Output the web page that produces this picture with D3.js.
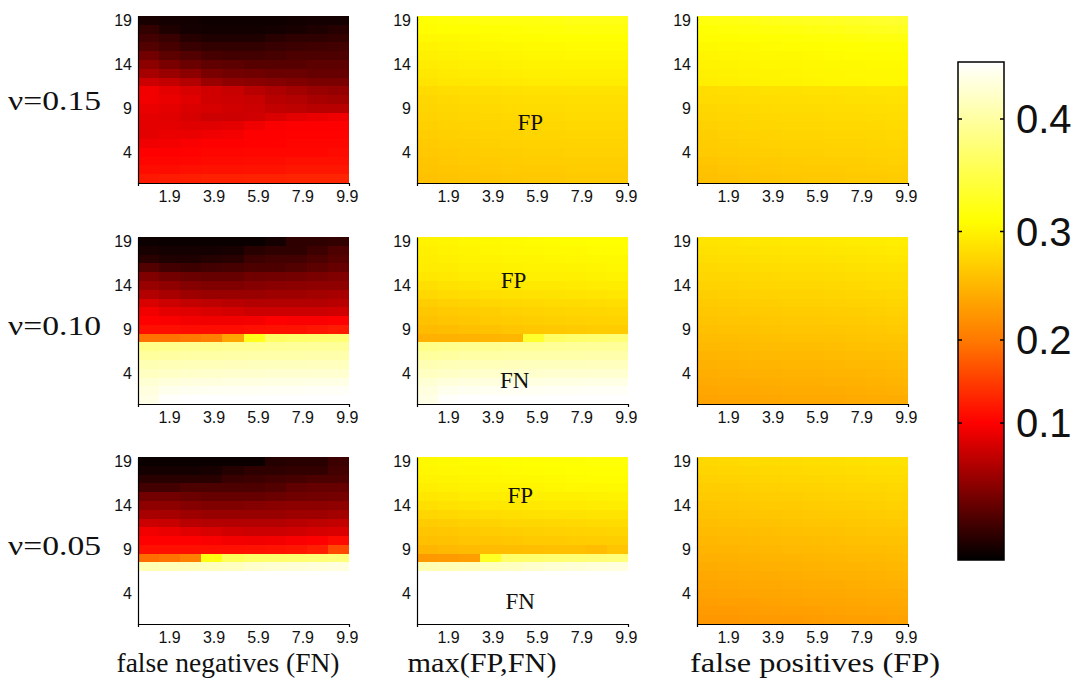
<!DOCTYPE html>
<html>
<head>
<meta charset="utf-8">
<title>FN / FP maps</title>
<script src="https://cdn.jsdelivr.net/npm/d3@7"></script>
<style>
  body { margin: 0; background: #fff; }
</style>
</head>
<body>
<script>

// ---- data -------------------------------------------------------------

var rowLabels = ["\u03bd=0.15", "\u03bd=0.10", "\u03bd=0.05"];
var colLabels = ["false negatives (FN)", "max(FP,FN)", "false positives (FP)"];

var xTicks = [1.9, 3.9, 5.9, 7.9, 9.9];
var yTicks = [4, 9, 14, 19];
var barTicks = [0.1, 0.2, 0.3, 0.4];

// y levels of the matrix rows (top row first)
var yLevels = [19, 18, 17, 16, 15, 14, 13, 12, 11, 10, 9, 8, 7, 6, 5, 4, 3, 2, 1];
// x edges of the column blocks
var xEdges = [0.5, 1.45, 2.4, 3.35, 4.3, 5.25, 6.2, 7.15, 8.1, 9.05, 10.0];

// nu = 0.15
var fn15 = [
  [.010,.008,.007,.006,.006,.006,.006,.007,.008,.008],
  [.020,.012,.008,.007,.007,.007,.008,.010,.012,.015],
  [.026,.022,.015,.012,.012,.012,.016,.018,.018,.020],
  [.032,.028,.022,.020,.020,.020,.022,.024,.025,.026],
  [.045,.036,.032,.028,.026,.026,.028,.030,.030,.030],
  [.055,.048,.042,.038,.036,.034,.034,.034,.036,.036],
  [.065,.060,.055,.048,.045,.044,.042,.042,.040,.040],
  [.080,.076,.070,.060,.056,.054,.052,.050,.048,.048],
  [.095,.090,.085,.082,.078,.072,.068,.064,.060,.058],
  [.095,.092,.088,.082,.080,.078,.072,.070,.066,.064],
  [.092,.090,.086,.084,.082,.080,.076,.074,.072,.072],
  [.090,.088,.084,.080,.080,.082,.086,.090,.092,.094],
  [.090,.090,.088,.088,.090,.094,.098,.100,.100,.100],
  [.090,.092,.092,.094,.096,.100,.100,.102,.102,.102],
  [.094,.096,.098,.100,.100,.102,.102,.104,.104,.104],
  [.100,.100,.102,.104,.104,.106,.106,.106,.106,.108],
  [.104,.104,.106,.108,.108,.110,.110,.112,.112,.112],
  [.110,.110,.112,.114,.114,.116,.116,.118,.118,.118],
  [.120,.122,.124,.126,.126,.128,.128,.130,.130,.130]
];
var mx15 = [
  [.312,.314,.316,.318,.318,.318,.320,.322,.322,.322],
  [.308,.310,.310,.312,.312,.314,.314,.316,.316,.316],
  [.304,.305,.306,.307,.308,.309,.310,.310,.311,.311],
  [.300,.302,.303,.304,.305,.306,.306,.307,.307,.307],
  [.297,.299,.300,.301,.302,.303,.303,.304,.304,.304],
  [.294,.296,.297,.298,.299,.300,.300,.301,.301,.301],
  [.291,.293,.294,.295,.296,.297,.297,.298,.298,.298],
  [.288,.290,.291,.292,.293,.294,.294,.295,.295,.295],
  [.280,.282,.283,.284,.285,.286,.286,.287,.287,.287],
  [.277,.279,.280,.281,.282,.283,.283,.284,.284,.284],
  [.275,.277,.278,.279,.280,.281,.281,.282,.282,.282],
  [.273,.275,.276,.277,.278,.279,.279,.280,.280,.280],
  [.271,.273,.274,.275,.276,.277,.277,.278,.278,.278],
  [.269,.271,.272,.273,.274,.275,.275,.276,.276,.276],
  [.267,.269,.270,.271,.272,.273,.273,.274,.274,.274],
  [.265,.267,.268,.269,.270,.271,.271,.272,.272,.272],
  [.263,.265,.266,.267,.268,.269,.269,.270,.270,.270],
  [.261,.263,.264,.265,.266,.267,.267,.268,.268,.268],
  [.259,.261,.262,.263,.264,.265,.265,.266,.266,.266]
];
var fp15 = [
  [.318,.320,.322,.324,.326,.328,.330,.332,.334,.336],
  [.312,.314,.315,.316,.318,.320,.322,.324,.326,.328],
  [.308,.309,.310,.311,.312,.313,.314,.316,.318,.318],
  [.305,.306,.306,.307,.308,.309,.310,.311,.312,.312],
  [.302,.303,.304,.305,.305,.306,.307,.308,.308,.309],
  [.300,.301,.302,.303,.303,.304,.305,.305,.306,.306],
  [.298,.299,.300,.301,.302,.303,.303,.304,.304,.305],
  [.296,.298,.299,.300,.301,.302,.303,.303,.304,.304],
  [.282,.283,.284,.285,.285,.286,.286,.287,.288,.288],
  [.280,.281,.282,.282,.283,.284,.284,.285,.285,.286],
  [.277,.278,.279,.280,.281,.281,.282,.282,.283,.284],
  [.275,.276,.277,.278,.279,.279,.280,.280,.281,.282],
  [.272,.274,.275,.276,.277,.277,.278,.278,.279,.280],
  [.270,.272,.273,.274,.275,.275,.276,.276,.277,.278],
  [.268,.270,.271,.272,.273,.273,.274,.274,.275,.276],
  [.266,.268,.269,.270,.271,.271,.272,.272,.273,.274],
  [.263,.265,.266,.267,.268,.269,.269,.270,.271,.272],
  [.260,.262,.264,.265,.266,.267,.267,.268,.269,.270],
  [.258,.260,.262,.263,.264,.265,.265,.266,.267,.268]
];

// nu = 0.10
var fn10 = [
  [.005,.004,.004,.004,.004,.004,.008,.018,.018,.020],
  [.010,.008,.008,.008,.010,.016,.018,.018,.024,.030],
  [.016,.012,.012,.014,.016,.024,.026,.026,.030,.034],
  [.032,.026,.024,.026,.028,.030,.030,.032,.036,.040],
  [.050,.045,.042,.040,.040,.044,.045,.046,.048,.050],
  [.060,.056,.052,.050,.050,.052,.054,.055,.056,.056],
  [.070,.066,.062,.060,.060,.060,.062,.062,.064,.066],
  [.085,.080,.076,.074,.072,.070,.070,.070,.070,.072],
  [.095,.090,.088,.085,.083,.080,.080,.080,.080,.082],
  [.100,.098,.096,.095,.095,.096,.100,.098,.098,.100],
  [.112,.112,.110,.110,.110,.112,.114,.114,.118,.122],
  [.195,.195,.200,.205,.235,.325,.365,.370,.372,.375],
  [.385,.388,.390,.390,.392,.392,.394,.395,.396,.396],
  [.398,.400,.402,.402,.403,.404,.404,.404,.405,.405],
  [.410,.412,.413,.413,.414,.415,.415,.415,.416,.416],
  [.418,.420,.422,.423,.424,.424,.425,.425,.426,.426],
  [.428,.432,.434,.435,.436,.436,.437,.437,.438,.438],
  [.434,.442,.444,.445,.446,.446,.447,.447,.448,.448],
  [.438,.450,.452,.452,.452,.452,.452,.452,.452,.452]
];
var mx10 = [
  [.300,.302,.304,.305,.306,.307,.308,.309,.310,.310],
  [.298,.300,.302,.303,.304,.305,.306,.306,.307,.308],
  [.296,.298,.300,.300,.302,.302,.303,.304,.305,.305],
  [.294,.295,.297,.298,.299,.300,.300,.301,.302,.303],
  [.290,.292,.294,.295,.296,.297,.297,.298,.299,.300],
  [.284,.286,.288,.290,.291,.292,.292,.293,.294,.295],
  [.278,.280,.282,.284,.285,.286,.287,.288,.289,.290],
  [.270,.272,.274,.276,.278,.279,.280,.281,.282,.283],
  [.264,.266,.268,.270,.272,.274,.275,.276,.277,.278],
  [.260,.262,.264,.266,.268,.270,.271,.272,.273,.274],
  [.254,.256,.258,.260,.262,.264,.265,.266,.268,.268],
  [.245,.246,.247,.248,.250,.335,.365,.370,.372,.375],
  [.385,.388,.390,.390,.392,.392,.394,.395,.396,.396],
  [.398,.400,.402,.402,.403,.404,.404,.404,.405,.405],
  [.410,.412,.413,.413,.414,.415,.415,.415,.416,.416],
  [.418,.420,.422,.423,.424,.424,.425,.425,.426,.426],
  [.428,.432,.434,.435,.436,.436,.437,.437,.438,.438],
  [.434,.442,.444,.445,.446,.446,.447,.447,.448,.448],
  [.438,.450,.452,.452,.452,.452,.452,.452,.452,.452]
];
var fp10 = [
  [.288,.289,.290,.291,.292,.292,.293,.294,.295,.296],
  [.285,.286,.287,.288,.289,.289,.290,.291,.292,.293],
  [.282,.283,.284,.285,.286,.286,.287,.288,.289,.290],
  [.279,.280,.281,.282,.283,.283,.284,.285,.286,.287],
  [.276,.277,.278,.279,.280,.280,.281,.282,.283,.284],
  [.273,.274,.275,.276,.277,.277,.278,.279,.280,.281],
  [.270,.271,.272,.273,.274,.274,.275,.276,.277,.278],
  [.267,.268,.269,.270,.271,.271,.272,.273,.274,.275],
  [.264,.265,.266,.267,.268,.268,.269,.270,.271,.272],
  [.261,.262,.263,.264,.265,.265,.266,.267,.268,.269],
  [.258,.259,.260,.261,.262,.262,.263,.264,.265,.266],
  [.255,.256,.257,.258,.259,.259,.260,.261,.262,.263],
  [.252,.253,.254,.255,.256,.256,.257,.258,.259,.260],
  [.249,.250,.251,.252,.253,.253,.254,.255,.256,.257],
  [.246,.247,.248,.249,.250,.250,.251,.252,.253,.254],
  [.243,.244,.245,.246,.247,.247,.248,.249,.250,.251],
  [.240,.241,.242,.243,.244,.244,.245,.246,.247,.248],
  [.237,.238,.239,.240,.241,.241,.242,.243,.244,.245],
  [.234,.235,.236,.237,.238,.238,.239,.240,.241,.242]
];

// nu = 0.05
var fn05 = [
  [.004,.004,.004,.004,.004,.004,.014,.016,.016,.024],
  [.008,.008,.008,.010,.014,.018,.018,.020,.020,.026],
  [.016,.016,.016,.016,.022,.024,.026,.028,.030,.030],
  [.026,.026,.030,.030,.030,.030,.032,.038,.040,.040],
  [.045,.045,.042,.040,.040,.040,.042,.044,.045,.046],
  [.056,.055,.052,.050,.050,.052,.054,.055,.055,.056],
  [.066,.065,.062,.060,.060,.060,.060,.062,.062,.064],
  [.080,.078,.072,.070,.070,.070,.070,.072,.074,.076],
  [.095,.092,.088,.085,.082,.080,.080,.082,.084,.086],
  [.100,.100,.100,.098,.096,.095,.096,.098,.100,.108],
  [.112,.112,.112,.112,.112,.114,.116,.118,.125,.160],
  [.190,.195,.205,.320,.360,.368,.370,.372,.375,.378],
  [.410,.412,.414,.416,.418,.424,.428,.430,.432,.434],
  [.452,.452,.452,.452,.452,.452,.452,.452,.452,.452],
  [.452,.452,.452,.452,.452,.452,.452,.452,.452,.452],
  [.452,.452,.452,.452,.452,.452,.452,.452,.452,.452],
  [.452,.452,.452,.452,.452,.452,.452,.452,.452,.452],
  [.452,.452,.452,.452,.452,.452,.452,.452,.452,.452],
  [.452,.452,.452,.452,.452,.452,.452,.452,.452,.452]
];
var mx05 = [
  [.305,.306,.307,.308,.309,.310,.311,.312,.313,.313],
  [.303,.304,.305,.306,.307,.308,.309,.310,.311,.311],
  [.300,.301,.302,.303,.304,.305,.306,.307,.308,.308],
  [.296,.298,.299,.300,.301,.302,.303,.304,.304,.305],
  [.290,.292,.294,.295,.296,.297,.298,.298,.299,.300],
  [.284,.286,.288,.290,.291,.292,.293,.293,.294,.295],
  [.276,.278,.280,.282,.284,.285,.286,.287,.288,.288],
  [.268,.270,.272,.274,.276,.277,.278,.279,.280,.281],
  [.262,.264,.266,.268,.270,.271,.272,.273,.274,.275],
  [.258,.260,.262,.263,.264,.266,.267,.268,.269,.270],
  [.250,.252,.254,.255,.256,.257,.258,.258,.255,.262],
  [.226,.228,.230,.330,.368,.370,.372,.374,.376,.378],
  [.410,.412,.414,.416,.418,.424,.428,.430,.432,.434],
  [.452,.452,.452,.452,.452,.452,.452,.452,.452,.452],
  [.452,.452,.452,.452,.452,.452,.452,.452,.452,.452],
  [.452,.452,.452,.452,.452,.452,.452,.452,.452,.452],
  [.452,.452,.452,.452,.452,.452,.452,.452,.452,.452],
  [.452,.452,.452,.452,.452,.452,.452,.452,.452,.452],
  [.452,.452,.452,.452,.452,.452,.452,.452,.452,.452]
];
var fp05 = [
  [.278,.279,.280,.281,.282,.283,.284,.285,.286,.287],
  [.275,.276,.277,.278,.279,.280,.281,.282,.283,.284],
  [.272,.273,.274,.275,.276,.277,.278,.279,.280,.281],
  [.269,.270,.271,.272,.273,.274,.275,.276,.277,.278],
  [.266,.267,.268,.269,.270,.271,.272,.273,.274,.275],
  [.263,.264,.265,.266,.267,.268,.269,.270,.271,.272],
  [.260,.261,.262,.263,.264,.265,.266,.267,.268,.269],
  [.257,.258,.259,.260,.261,.262,.263,.264,.265,.266],
  [.254,.255,.256,.257,.258,.259,.260,.261,.262,.263],
  [.251,.252,.253,.254,.255,.256,.257,.258,.259,.260],
  [.248,.249,.250,.251,.252,.253,.254,.255,.256,.257],
  [.245,.246,.247,.248,.249,.250,.251,.252,.253,.254],
  [.242,.243,.244,.245,.246,.247,.248,.249,.250,.251],
  [.239,.240,.241,.242,.243,.244,.245,.246,.247,.248],
  [.236,.237,.238,.239,.240,.241,.242,.243,.244,.245],
  [.233,.234,.235,.236,.237,.238,.239,.240,.241,.242],
  [.230,.231,.232,.233,.234,.235,.236,.237,.238,.239],
  [.227,.228,.229,.230,.231,.232,.233,.234,.235,.236],
  [.224,.225,.226,.227,.228,.229,.230,.231,.232,.233]
];

var panels = [
  [fn15, mx15, fp15],
  [fn10, mx10, fp10],
  [fn05, mx05, fp05]
];

// text marks inside the middle column (x, y in axis units)
var notes = [
  {row: 0, col: 1, text: "FP", x: 5.6, y: 6.5},
  {row: 1, col: 1, text: "FP", x: 4.85, y: 13.7},
  {row: 1, col: 1, text: "FN", x: 4.9, y: 2.35},
  {row: 2, col: 1, text: "FP", x: 5.15, y: 14.3},
  {row: 2, col: 1, text: "FN", x: 5.15, y: 2.2}
];

// ---- layout -----------------------------------------------------------

var W = 1080, H = 698;
var panelX = [138, 417, 697];
var panelY = [16, 237, 457];
var panelW = 211, panelH = 167;

var svg = d3.select("body").append("svg")
  .attr("width", W)
  .attr("height", H)
  .style("display", "block");

// hot colour map, break points where the colour bar turns red / yellow / white
var color = d3.scaleLinear()
  .domain([0, 0.1, 0.31, 0.452])
  .range(["#000000", "#ff0000", "#ffff00", "#ffffff"])
  .clamp(true);

var x = d3.scaleLinear().domain([0.5, 10]).range([0, panelW]);
var y = d3.scaleLinear().domain([0.5, 19.5]).range([panelH, 0]);

var sans = "Liberation Sans, Arial, sans-serif";
var serif = "Liberation Serif, Times New Roman, serif";

panels.forEach(function(rowPanels, r) {
  rowPanels.forEach(function(matrix, c) {
    var g = svg.append("g")
      .attr("transform", "translate(" + panelX[c] + "," + panelY[r] + ")");

    var cells = [];
    matrix.forEach(function(vals, i) {
      vals.forEach(function(v, j) {
        cells.push({lev: yLevels[i], j: j, v: v});
      });
    });

    g.selectAll("rect.cell")
      .data(cells)
      .enter()
      .append("rect")
      .attr("class", "cell")
      .attr("x", function(d) { return x(xEdges[d.j]); })
      .attr("y", function(d) { return y(d.lev + 0.5); })
      .attr("width", function(d) { return x(xEdges[d.j + 1]) - x(xEdges[d.j]) + 0.4; })
      .attr("height", function(d) { return y(d.lev - 0.5) - y(d.lev + 0.5) + 0.4; })
      .attr("fill", function(d) { return color(d.v); })
      .attr("shape-rendering", "crispEdges");

    var ax = g.append("g")
      .attr("transform", "translate(0," + panelH + ")")
      .call(d3.axisBottom(x).tickValues(xTicks).tickFormat(d3.format(".1f"))
        .tickSize(0).tickSizeOuter(3).tickPadding(8));
    var ay = g.append("g")
      .call(d3.axisLeft(y).tickValues(yTicks).tickSize(0).tickSizeOuter(0).tickPadding(6));

    [ax, ay].forEach(function(a) {
      a.selectAll("text")
        .attr("font-family", sans)
        .attr("font-size", 16)
        .attr("fill", "#111");
      a.select(".domain").attr("stroke", "#000").attr("stroke-width", 1.2);
    });

    notes.filter(function(n) { return n.row === r && n.col === c; })
      .forEach(function(n) {
        g.append("text")
          .attr("x", x(n.x))
          .attr("y", y(n.y))
          .attr("text-anchor", "middle")
          .attr("font-family", serif)
          .attr("font-size", 23)
          .attr("fill", "#111")
          .text(n.text);
      });
  });
});

// row labels
var rowLabelY = [100, 325, 545];
svg.selectAll("text.rowlab")
  .data(rowLabels)
  .enter()
  .append("text")
  .attr("class", "rowlab")
  .attr("x", 8)
  .attr("y", function(d, i) { return rowLabelY[i]; })
  .attr("dy", "0.35em")
  .attr("font-family", serif)
  .attr("font-size", 28)
  .attr("fill", "#111")
  .attr("textLength", 93)
  .attr("lengthAdjust", "spacingAndGlyphs")
  .text(function(d) { return d; });

// column labels
var colLabelX = [228, 482, 815];
var colLabelLen = [223, 149, 250];
svg.selectAll("text.collab")
  .data(colLabels)
  .enter()
  .append("text")
  .attr("class", "collab")
  .attr("x", function(d, i) { return colLabelX[i]; })
  .attr("y", 672)
  .attr("text-anchor", "middle")
  .attr("font-family", serif)
  .attr("font-size", 27)
  .attr("fill", "#111")
  .attr("textLength", function(d, i) { return colLabelLen[i]; })
  .attr("lengthAdjust", "spacingAndGlyphs")
  .text(function(d) { return d; });

// ---- colour bar -------------------------------------------------------

var barX = 958, barW = 46, barTop = 62, barBottom = 560;
var barY = d3.scaleLinear()
  .domain([0, 0.1, 0.2, 0.3, 0.4, 0.452])
  .range([barBottom, 423, 340, 231.5, 119, barTop]);

var defs = svg.append("defs");
var grad = defs.append("linearGradient")
  .attr("id", "hotbar")
  .attr("x1", 0).attr("y1", 1)
  .attr("x2", 0).attr("y2", 0);
d3.range(0, 0.4521, 0.004).forEach(function(v) {
  grad.append("stop")
    .attr("offset", (barBottom - barY(v)) / (barBottom - barTop))
    .attr("stop-color", color(v));
});

var bar = svg.append("g");
bar.append("rect")
  .attr("x", barX)
  .attr("y", barTop)
  .attr("width", barW)
  .attr("height", barBottom - barTop)
  .attr("fill", "url(#hotbar)")
  .attr("stroke", "#000")
  .attr("stroke-width", 1.5);

bar.selectAll("line.tl")
  .data(barTicks)
  .enter()
  .append("line")
  .attr("x1", barX).attr("x2", barX + 4)
  .attr("y1", function(d) { return barY(d); })
  .attr("y2", function(d) { return barY(d); })
  .attr("stroke", "#000").attr("stroke-width", 1.5);

bar.selectAll("line.tr")
  .data(barTicks)
  .enter()
  .append("line")
  .attr("x1", barX + barW - 4).attr("x2", barX + barW)
  .attr("y1", function(d) { return barY(d); })
  .attr("y2", function(d) { return barY(d); })
  .attr("stroke", "#000").attr("stroke-width", 1.5);

bar.selectAll("text")
  .data(barTicks)
  .enter()
  .append("text")
  .attr("x", barX + barW + 12)
  .attr("y", function(d) { return barY(d); })
  .attr("dy", "0.36em")
  .attr("font-family", sans)
  .attr("font-size", 40)
  .attr("fill", "#111")
  .text(function(d) { return d3.format(".1f")(d); });

</script>
</body>
</html>
